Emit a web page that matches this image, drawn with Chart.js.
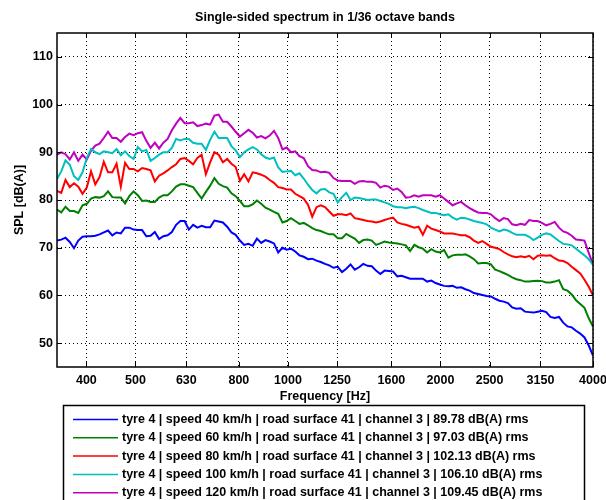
<!DOCTYPE html>
<html>
<head>
<meta charset="utf-8">
<title>Single-sided spectrum</title>
<script src="https://cdn.jsdelivr.net/npm/chart.js@4.4.1/dist/chart.umd.min.js"></script>
<style>
    html, body { margin: 0; padding: 0; background: #fff; }
    canvas { display: block; }
</style>
</head>
<body>
<canvas id="spectrumChart" width="606" height="500"></canvas>
<script>
// ===== Band centre frequencies (1/36 octave) =====
const fMin = 350;
const fMax = 4000;
const bandCount = 127;
const bandFreqs = Array.from({ length: bandCount }, (_, i) => fMin * Math.pow(fMax / fMin, i / (bandCount - 1)));

// ===== Axis ticks =====
const xTickValues = [400, 500, 630, 800, 1000, 1250, 1600, 2000, 2500, 3150, 4000];
const xTickLabels = ['400', '500', '630', '800', '1000', '1250', '1600', '2000', '2500', '3150', '4000'];
const yTickValues = [50, 60, 70, 80, 90, 100, 110];

// ===== Measurements: tyre 4, road surface 41, channel 3 =====
const speeds = [40, 60, 80, 100, 120];
const rmsLevels = ['89.78', '97.03', '102.13', '106.10', '109.45'];

const spl40 = [
    71.5, 71.7, 72.1, 71.2, 69.9, 71.5, 72.3, 72.4, 72.4, 72.5,
    72.8, 73.2, 73.6, 72.6, 73.2, 73.0, 74.2, 74.2, 73.8, 73.7,
    73.7, 72.4, 72.5, 73.3, 71.8, 72.4, 72.6, 73.3, 74.8, 75.6,
    75.6, 73.8, 74.8, 74.2, 74.6, 74.3, 74.3, 75.7, 75.5, 75.3,
    74.4, 73.2, 72.7, 71.5, 70.6, 70.8, 70.4, 71.9, 71.0, 71.6,
    71.3, 70.9, 69.0, 70.0, 69.6, 69.8, 69.2, 68.4, 68.1, 67.6,
    67.7, 67.3, 67.0, 66.6, 66.3, 65.8, 66.0, 64.9, 65.6, 66.5,
    65.4, 65.9, 66.6, 66.2, 66.1, 65.2, 64.5, 65.2, 65.1, 65.0,
    64.0, 64.1, 63.8, 63.5, 63.5, 63.5, 63.5, 62.9, 63.1, 62.6,
    62.3, 62.0, 61.9, 62.0, 61.6, 61.7, 61.3, 61.0, 60.5, 60.3,
    60.1, 59.9, 59.8, 59.3, 58.9, 58.7, 58.4, 57.5, 57.2, 57.3,
    56.6, 56.5, 56.4, 56.6, 56.8, 56.5, 55.5, 55.3, 55.5, 54.3,
    53.5, 53.3, 52.6, 52.0, 51.2, 49.5, 47.4
];

const spl60 = [
    78.0, 77.4, 78.6, 77.7, 77.7, 77.3, 78.9, 79.2, 80.3, 80.6,
    80.5, 80.8, 81.8, 80.6, 80.5, 80.5, 79.3, 80.8, 81.8, 81.0,
    79.8, 79.9, 79.6, 79.6, 80.5, 81.0, 81.0, 81.8, 82.8, 83.3,
    83.3, 83.0, 82.7, 81.5, 80.3, 81.7, 83.0, 84.6, 83.4, 82.9,
    82.6, 81.4, 80.8, 79.8, 78.7, 78.7, 79.1, 79.9, 79.2, 78.4,
    78.0, 77.5, 77.1, 75.3, 75.6, 76.2, 75.6, 75.0, 75.2, 74.7,
    74.1, 73.7, 73.5, 73.1, 72.8, 72.8, 72.0, 72.0, 72.9, 72.4,
    71.9, 71.0, 71.6, 71.7, 71.5, 70.6, 70.9, 71.3, 71.1, 71.0,
    70.9, 70.7, 70.5, 69.3, 70.6, 70.1, 69.8, 69.0, 69.7, 69.2,
    69.0, 69.5, 67.9, 68.4, 68.5, 68.5, 68.6, 68.2, 67.6, 66.7,
    66.8, 66.8, 66.5, 65.4, 65.1, 64.7, 64.3, 63.8, 63.4, 63.2,
    62.9, 62.9, 63.0, 63.1, 63.0, 62.7, 62.7, 62.9, 63.2, 61.3,
    61.0, 60.2, 59.0, 58.2, 57.4, 55.2, 53.5
];

const spl80 = [
    81.9, 81.5, 84.2, 82.7, 83.5, 82.8, 81.3, 82.6, 86.0, 83.3,
    84.8, 88.0, 85.8, 85.8, 87.6, 82.8, 87.8, 86.5, 86.5, 86.0,
    86.7, 86.5, 86.2, 83.9, 85.1, 85.6, 86.2, 86.9, 87.5, 88.6,
    88.8, 88.2, 87.5, 88.8, 89.5, 85.4, 87.9, 90.0, 89.5, 87.9,
    88.6, 87.6, 86.9, 84.0, 85.4, 83.9, 85.8, 85.6, 85.3, 84.9,
    84.2, 83.6, 82.7, 82.5, 82.2, 82.2, 81.3, 80.8, 80.3, 79.0,
    76.5, 78.5, 78.9, 78.5, 77.6, 76.7, 77.0, 77.0, 76.8, 77.2,
    76.2, 76.0, 75.8, 75.6, 75.5, 75.3, 75.5, 75.8, 76.1, 76.3,
    75.3, 75.0, 74.8, 74.5, 74.2, 74.4, 72.7, 74.6, 74.0, 73.7,
    73.4, 73.0, 73.0, 73.0, 72.8, 72.6, 72.6, 72.2, 71.5, 71.0,
    71.4, 70.8, 70.2, 70.0, 69.7, 69.1, 68.6, 68.2, 68.0, 68.2,
    68.0, 68.3, 67.6, 68.3, 68.4, 68.3, 68.4, 67.8, 67.3, 67.2,
    66.8, 66.0, 65.3, 64.6, 63.3, 61.8, 60.0
];

const spl100 = [
    84.4, 86.0, 88.3, 87.4, 85.0, 84.2, 85.8, 88.8, 90.7, 90.0,
    89.6, 90.2, 90.0, 89.8, 90.7, 89.4, 90.2, 89.2, 88.6, 91.1,
    90.2, 90.5, 88.2, 88.8, 89.5, 90.0, 90.0, 90.9, 92.8, 92.5,
    92.8, 92.8, 92.0, 91.8, 91.8, 90.5, 92.6, 94.3, 93.0, 93.0,
    93.0, 91.3, 90.4, 89.0, 90.0, 90.6, 91.1, 90.6, 89.6, 88.9,
    88.6, 88.9, 86.8, 85.9, 86.0, 86.1, 85.2, 85.6, 84.5, 83.2,
    82.1, 81.4, 82.2, 82.3, 81.6, 81.3, 79.5, 80.6, 81.5, 80.0,
    80.5, 80.4, 80.2, 80.0, 80.1, 80.1, 79.8, 79.5, 79.2, 78.7,
    78.5, 78.5, 78.3, 78.5, 78.6, 78.3, 77.9, 77.6, 77.3, 77.3,
    77.0, 76.8, 77.0, 76.3, 75.9, 76.3, 76.2, 75.9, 75.6, 75.4,
    75.2, 74.9, 74.2, 73.8, 73.4, 73.8, 73.6, 73.1, 72.7, 72.7,
    72.7, 72.3, 71.6, 72.1, 72.7, 73.0, 72.8, 72.1, 71.4, 70.8,
    70.7, 70.5, 69.8, 69.1, 68.4, 67.6, 66.4
];

const spl120 = [
    89.5, 90.0, 89.6, 88.5, 90.0, 88.2, 89.5, 88.5, 90.3, 91.4,
    91.8, 93.0, 94.3, 93.0, 93.0, 92.2, 93.2, 93.9, 93.6, 94.0,
    94.2, 92.4, 90.9, 92.0, 90.8, 92.0, 92.8, 94.6, 96.0, 97.2,
    96.1, 96.1, 96.3, 95.5, 95.7, 96.0, 95.8, 97.7, 97.9, 96.4,
    96.4, 95.4, 94.3, 93.3, 94.0, 94.7, 94.1, 93.1, 93.4, 92.9,
    93.5, 94.5, 93.0, 90.6, 91.0, 90.0, 90.2, 89.2, 88.8, 87.1,
    86.3, 86.2, 85.8, 85.9, 85.7, 84.6, 84.1, 84.0, 84.0, 84.0,
    83.4, 83.9, 84.0, 83.8, 83.8, 83.6, 82.6, 83.0, 82.8, 82.1,
    82.4, 81.7, 80.5, 80.6, 81.0, 80.7, 81.0, 81.0, 81.0, 80.7,
    81.0, 80.3, 79.6, 78.9, 79.3, 79.6, 78.9, 78.3, 77.8, 77.4,
    77.3, 77.3, 77.0, 76.2, 75.6, 76.2, 76.0, 74.9, 74.7, 75.0,
    74.8, 75.8, 75.6, 75.6, 75.2, 74.7, 75.0, 75.4, 74.2, 73.4,
    73.1, 72.5, 71.7, 71.6, 71.5, 68.9, 66.5
];

const seriesValues = [spl40, spl60, spl80, spl100, spl120];
const seriesColors = ['#0000ff', '#008000', '#ff0000', '#00bfbf', '#bf00bf'];

const FONT_FAMILY = '"Liberation Sans", Arial, Helvetica, sans-serif';
const labelFont = { family: FONT_FAMILY, size: 12.5, weight: 'bold' };

// ===== Frame, inward ticks, title and boxed legend =====
const frameAndLegend = {
    id: 'frameAndLegend',
    afterDatasetsDraw(chart) {
        const { ctx, chartArea: a, scales: { x, y } } = chart;
        ctx.save();
        ctx.strokeStyle = '#000';
        ctx.lineWidth = 1;
        ctx.beginPath();
        xTickValues.forEach(v => {
            const px = Math.round(x.getPixelForValue(v)) + 0.5;
            ctx.moveTo(px, a.bottom);
            ctx.lineTo(px, a.bottom - 5);
            ctx.moveTo(px, a.top);
            ctx.lineTo(px, a.top + 5);
        });
        yTickValues.forEach(v => {
            const py = Math.round(y.getPixelForValue(v)) + 0.5;
            ctx.moveTo(a.left, py);
            ctx.lineTo(a.left + 5, py);
            ctx.moveTo(a.right, py);
            ctx.lineTo(a.right - 5, py);
        });
        ctx.stroke();
        ctx.lineWidth = 1.5;
        ctx.strokeRect(a.left, a.top, a.right - a.left, a.bottom - a.top);
        ctx.restore();
    },
    afterDraw(chart) {
        const { ctx, chartArea: a } = chart;
        ctx.save();
        ctx.fillStyle = '#000';
        ctx.font = `bold 12.5px ${FONT_FAMILY}`;
        ctx.textBaseline = 'middle';

        // Title
        ctx.textAlign = 'center';
        ctx.fillText('Single-sided spectrum in 1/36 octave bands', (a.left + a.right) / 2, 17.5);

        // Legend box (runs off the bottom of the canvas)
        ctx.strokeStyle = '#000';
        ctx.lineWidth = 1.5;
        ctx.strokeRect(63.5, 405.5, 521, 120);

        ctx.textAlign = 'left';
        chart.data.datasets.forEach((ds, k) => {
            const rowY = 419.5 + k * 18.3;
            ctx.strokeStyle = ds.borderColor;
            ctx.lineWidth = 1.5;
            ctx.beginPath();
            ctx.moveTo(73, rowY);
            ctx.lineTo(118, rowY);
            ctx.stroke();
            ctx.fillText(ds.label, 122, rowY);
        });
        ctx.restore();
    }
};

// ===== Build Chart =====
function buildSpectrumChart() {
    const datasets = seriesValues.map((vals, k) => ({
        label: `tyre 4 | speed ${speeds[k]} km/h | road surface 41 | channel 3 | ${rmsLevels[k]} dB(A) rms`,
        data: vals.map((v, i) => ({ x: bandFreqs[i], y: v })),
        borderColor: seriesColors[k],
        borderWidth: 2,
        pointRadius: 0,
        tension: 0,
        fill: false
    }));

    new Chart(document.getElementById('spectrumChart'), {
        type: 'line',
        data: { datasets: datasets },
        options: {
            responsive: false,
            animation: false,
            events: [],
            layout: { padding: { top: 33, right: 13, bottom: 95, left: 0 } },
            plugins: {
                legend: { display: false },
                title: { display: false },
                tooltip: { enabled: false }
            },
            scales: {
                x: {
                    type: 'logarithmic',
                    min: fMin,
                    max: fMax,
                    afterBuildTicks: scale => {
                        scale.ticks = xTickValues.map(v => ({ value: v }));
                    },
                    afterFit: scale => {
                        scale.height = 38;
                        scale.paddingLeft = 0;
                        scale.paddingRight = 0;
                    },
                    ticks: {
                        autoSkip: false,
                        maxRotation: 0,
                        padding: 6,
                        color: '#000',
                        font: labelFont,
                        callback: (value, index) => xTickLabels[index]
                    },
                    grid: { color: '#000', lineWidth: 1, drawTicks: false },
                    border: { display: false, dash: [1, 3] },
                    title: {
                        display: true,
                        text: 'Frequency [Hz]',
                        color: '#000',
                        font: labelFont,
                        padding: { top: 0, bottom: 0.5 }
                    }
                },
                y: {
                    min: 45,
                    max: 115,
                    afterBuildTicks: scale => {
                        scale.ticks = yTickValues.map(v => ({ value: v }));
                    },
                    afterFit: scale => {
                        scale.width = 57;
                        scale.paddingTop = 0;
                        scale.paddingBottom = 0;
                    },
                    ticks: {
                        padding: 4,
                        color: '#000',
                        font: labelFont
                    },
                    grid: { color: '#000', lineWidth: 1, drawTicks: false },
                    border: { display: false, dash: [1, 3] },
                    title: {
                        display: true,
                        text: 'SPL [dB(A)]',
                        color: '#000',
                        font: labelFont,
                        padding: { top: 12, bottom: 0 }
                    }
                }
            }
        },
        plugins: [frameAndLegend]
    });
}

buildSpectrumChart();
</script>
</body>
</html>
